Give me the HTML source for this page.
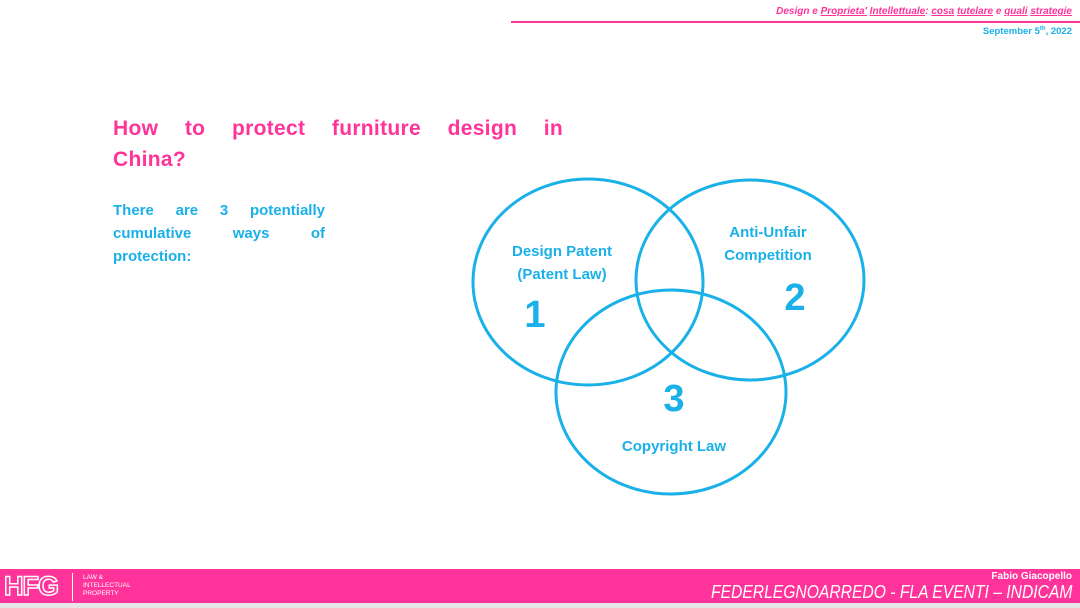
<!DOCTYPE html>
<html><head><meta charset="utf-8"><style>
body{margin:0;width:1080px;height:608px;position:relative;overflow:hidden;background:#fff;font-family:"Liberation Sans",sans-serif}
.a{position:absolute}
</style></head><body>
<div class="a" style="right:8px;top:6px;font-size:10px;font-weight:bold;font-style:italic;color:#ff3399;">Design e <u>Proprieta'</u> <u>Intellettuale</u>: <u>cosa</u> <u>tutelare</u> e <u>quali</u> <u>strategie</u></div>
<div class="a" style="left:511px;top:21px;width:569px;height:2px;background:#ff3399"></div>
<div class="a" style="right:8px;top:26px;font-size:9.5px;font-weight:bold;color:#1ab0e8;">September 5<sup style="font-size:6px">th</sup>, 2022</div>
<div class="a" style="left:113px;top:113px;width:450px;font-size:21px;font-weight:bold;color:#ff3399;text-align:justify;text-align-last:justify;line-height:31px;letter-spacing:0.3px">How to protect furniture design in</div>
<div class="a" style="left:113px;top:144px;font-size:21px;font-weight:bold;color:#ff3399;line-height:31px;letter-spacing:0.3px">China?</div>
<div class="a" style="left:113px;top:199px;width:212px;font-size:15px;font-weight:bold;color:#1ab0e8;text-align:justify;line-height:23px">There are 3 potentially cumulative ways of protection:</div>
<svg class="a" style="left:0;top:0" width="1080" height="608">
<g fill="none" stroke="#1ab0e8" stroke-width="3">
<ellipse cx="588" cy="282" rx="115" ry="103"/>
<ellipse cx="750" cy="280" rx="114" ry="100"/>
<ellipse cx="671" cy="392" rx="115" ry="102"/>
</g>
<g fill="#1ab0e8" font-family="Liberation Sans,sans-serif" font-weight="bold" text-anchor="middle">
<text x="562" y="256" font-size="15">Design Patent</text>
<text x="562" y="279" font-size="15">(Patent Law)</text>
<text x="768" y="237" font-size="15">Anti-Unfair</text>
<text x="768" y="260" font-size="15">Competition</text>
<text x="674" y="451" font-size="15">Copyright Law</text>
<text x="535" y="327" font-size="38">1</text>
<text x="795" y="310" font-size="38">2</text>
<text x="674" y="411" font-size="38">3</text>
</g>
</svg>
<div class="a" style="left:0;top:569px;width:1080px;height:34px;background:#ff3399"></div>
<div class="a" style="left:0;top:603px;width:1080px;height:5px;background:#e6e6e6"></div>
<div class="a" style="left:4px;top:571px;font-size:27px;font-weight:bold;color:#ff3399;-webkit-text-stroke:1.5px #fff;letter-spacing:-1px">HFG</div>
<div class="a" style="left:72px;top:573px;width:1px;height:28px;background:#fff"></div>
<div class="a" style="left:83px;top:574px;font-size:6.5px;line-height:8px;color:#fff">LAW &amp;<br>INTELLECTUAL<br>PROPERTY</div>
<div class="a" style="right:8px;top:571px;font-size:10px;font-weight:bold;color:#fff">Fabio Giacopello</div>
<div class="a" style="right:8px;top:582px;font-size:18px;font-style:italic;color:#fff;transform:scaleX(0.87);transform-origin:right top;white-space:nowrap">FEDERLEGNOARREDO - FLA EVENTI – INDICAM</div>
</body></html>
